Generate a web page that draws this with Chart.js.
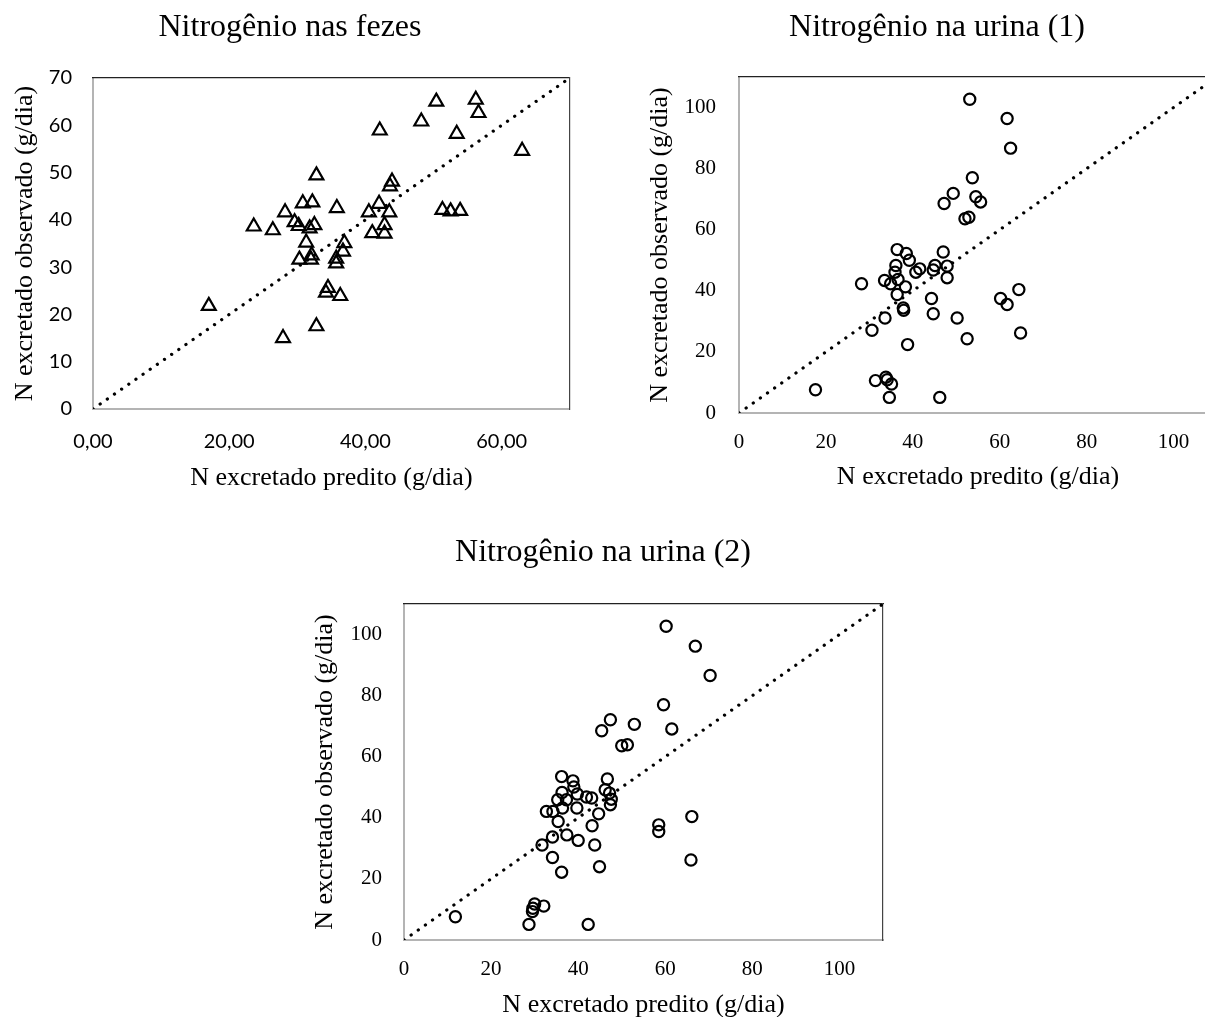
<!DOCTYPE html>
<html>
<head>
<meta charset="utf-8">
<script src="https://cdn.jsdelivr.net/npm/chart.js@4.4.1/dist/chart.umd.min.js"></script>
<style>
  html, body { margin:0; padding:0; background:#fff; overflow:hidden; width:1205px; height:1017px; }
  canvas { position:absolute; }
</style>
</head>
<body>
<canvas id="c1" width="580" height="510" style="left:0px;top:0px"></canvas>
<canvas id="c2" width="594" height="510" style="left:640px;top:0px"></canvas>
<canvas id="c3" width="586" height="510" style="left:310px;top:520px"></canvas>
<script>
// ---------- data ----------
const titles = ['Nitrogênio nas fezes', 'Nitrogênio na urina (1)', 'Nitrogênio na urina (2)'];
const xAxisTitle = 'N excretado predito (g/dia)';
const yAxisTitle = 'N excretado observado (g/dia)';

// Panel 1: fezes (triangles)
const pred1 = [50.4,56.2,56.6,48.2,42.1,53.4,63.0,32.8,43.9,43.6,30.8,32.2,35.8,42.0,40.5,43.5,28.2,51.3,52.5,53.9,23.6,26.4,29.6,30.2,31.8,32.5,42.8,41.0,42.8,31.3,36.9,36.7,32.1,30.3,32.0,35.7,35.7,34.5,34.2,36.3,17.0,32.8,27.9];
const obs1  = [65.0,65.4,62.6,60.8,58.9,58.2,54.6,49.4,48.1,47.1,43.5,43.7,42.5,43.4,41.6,41.6,41.6,42.1,41.8,41.9,38.6,37.8,39.5,38.7,38.2,38.9,38.9,37.2,37.1,35.2,35.1,33.3,32.5,31.6,31.6,31.8,30.8,25.6,24.6,23.9,21.8,17.5,15.0];

// Panel 2: urina (1) (circles)
const pred2 = [53.1,61.7,62.5,53.7,49.3,47.2,54.5,55.6,52.0,52.9,36.4,38.5,47.0,39.2,36.1,35.9,41.6,40.7,45.1,44.7,47.9,47.9,33.5,34.9,36.6,28.2,38.3,36.4,44.3,37.8,37.9,44.7,33.6,50.2,30.6,52.5,38.8,60.2,61.7,64.4,64.8,17.6,31.4,33.8,34.1,35.1,34.6,46.2];
const obs2  = [102.7,96.4,86.7,77.0,71.9,68.6,70.8,69.1,63.6,64.1,53.5,52.2,52.7,50.0,48.3,46.1,47.2,46.1,48.3,46.8,48.1,44.3,43.4,42.3,43.7,42.3,41.3,38.8,37.5,34.4,33.6,32.5,31.1,31.1,27.1,24.3,22.4,37.5,35.5,40.4,26.2,7.6,10.6,11.7,10.9,9.5,5.1,5.1];

// Panel 3: urina (2) (circles)
const pred3 = [60.2,66.9,70.3,59.6,47.4,52.9,45.4,61.5,50.0,51.3,36.2,38.8,46.7,39.0,36.3,39.8,41.9,43.1,46.2,47.2,47.6,47.4,35.3,37.3,36.4,32.7,34.2,39.7,44.7,35.4,43.2,34.1,37.4,40.0,31.7,43.8,34.1,44.9,36.2,58.5,58.5,66.1,65.9,11.8,30.0,32.1,29.5,28.7,42.3,29.6];
const obs3  = [102.7,96.2,86.6,77.0,72.1,70.6,68.5,69.1,63.6,63.9,53.5,52.1,52.7,50.1,48.3,47.8,46.8,46.5,49.2,48.1,46.1,44.3,45.9,45.9,43.2,42.1,42.1,43.2,41.3,38.8,37.4,33.7,34.4,32.6,31.1,31.1,27.0,24.0,22.2,37.7,35.5,40.4,26.2,7.6,11.8,11.1,9.3,5.1,5.1,10.4];

// 1:1 reference lines
const line1 = [0, 70];
const line23 = [0, 110];

// ticks
const xTicks1 = [0, 20, 40, 60];
const xLabels1 = ['0,00', '20,00', '40,00', '60,00'];
const yTicks1 = [0, 10, 20, 30, 40, 50, 60, 70];
const yLabels1 = ['0', '10', '20', '30', '40', '50', '60', '70'];
const ticks23 = [0, 20, 40, 60, 80, 100];
const labels23 = ['0', '20', '40', '60', '80', '100'];

// ---------- rendering ----------
const SERIF = '"Liberation Serif", "Times New Roman", serif';
const SANS = 'Lato, "Liberation Sans", sans-serif';

function pts(xs, ys) { return xs.map((x, i) => ({x: x, y: ys[i]})); }

function makeChart(id, cfg) {
  const ctx = document.getElementById(id);
  return new Chart(ctx, {
    type: 'scatter',
    data: {
      datasets: [
        {
          data: pts(cfg.px, cfg.py),
          pointStyle: cfg.style,
          pointRadius: cfg.radius,
          pointBorderWidth: 2.2,
          pointBorderColor: '#000',
          pointBackgroundColor: 'rgba(0,0,0,0)',
          showLine: false,
          order: 1
        },
        {
          type: 'line',
          data: pts(cfg.line, cfg.line),
          borderColor: '#000',
          borderWidth: 3.2,
          borderDash: [0.1, 8.6],
          borderCapStyle: 'round',
          pointRadius: 0,
          fill: false,
          order: 2
        }
      ]
    },
    options: {
      responsive: false,
      animation: false,
      events: [],
      devicePixelRatio: 1,
      layout: { padding: 0 },
      plugins: {
        legend: { display: false },
        tooltip: { enabled: false },
        title: {
          display: true,
          text: cfg.title,
          color: '#000',
          font: { family: SERIF, size: 32, weight: 'normal', lineHeight: 1.2 },
          padding: { top: cfg.titleTop, bottom: 0 }
        }
      },
      scales: {
        x: {
          type: 'linear', position: 'bottom', min: 0, max: cfg.max,
          afterFit: s => { s.height = cfg.xh; },
          afterBuildTicks: s => { s.ticks = cfg.xt.map(v => ({value: v})); },
          ticks: {
            callback: v => cfg.xl[cfg.xt.indexOf(v)],
            color: '#000', font: { family: cfg.tickFont, size: cfg.tickSize, lineHeight: 1.2 },
            padding: cfg.xtp, maxRotation: 0, autoSkip: false
          },
          grid: { display: false, drawTicks: false },
          border: { color: '#b4b4b4', width: 2 },
          title: { display: true, text: xAxisTitle, color: '#000',
                   font: { family: SERIF, size: 26, lineHeight: 1.2 },
                   padding: { top: 0, bottom: cfg.xtitlePad } }
        },
        y: {
          type: 'linear', position: 'left', min: 0, max: cfg.max,
          afterFit: s => { s.width = cfg.yw; },
          afterBuildTicks: s => { s.ticks = cfg.yt.map(v => ({value: v})); },
          ticks: {
            callback: v => cfg.yl[cfg.yt.indexOf(v)],
            color: '#000', font: { family: cfg.tickFont, size: cfg.tickSize },
            padding: cfg.ytp, autoSkip: false
          },
          grid: { display: false, drawTicks: false },
          border: { color: '#b4b4b4', width: 2 },
          title: { display: true, text: yAxisTitle, color: '#000',
                   font: { family: SERIF, size: 26, lineHeight: 1.2 },
                   padding: { top: cfg.ytitlePad, bottom: 0 } }
        },
        x2: {
          type: 'linear', position: 'top', display: true,
          afterFit: s => { s.height = cfg.x2h; },
          ticks: { display: false },
          grid: { display: false, drawTicks: false },
          border: { color: '#222', width: 1.2 }
        },
        y2: {
          type: 'linear', position: 'right', display: true,
          afterFit: s => { s.width = cfg.y2w; },
          ticks: { display: false },
          grid: { display: false, drawTicks: false },
          border: { color: '#444', width: 1.2 }
        }
      }
    }
  });
}

makeChart('c1', {
  title: titles[0], px: pred1, py: obs1, style: 'triangle', radius: 8, line: line1, max: 70,
  xt: xTicks1, xl: xLabels1, yt: yTicks1, yl: yLabels1,
  tickFont: SANS, tickSize: 20,
  titleTop: 8.8, x2h: 30.8, xh: 101, yw: 93, y2w: 9,
  xtp: 21, ytp: 21, xtitlePad: 16.4, ytitlePad: 9.4
});

makeChart('c2', {
  title: titles[1], px: pred2, py: obs2, style: 'circle', radius: 5.6, line: line23, max: 110,
  xt: ticks23, xl: labels23, yt: ticks23, yl: labels23,
  tickFont: SERIF, tickSize: 21,
  titleTop: 8.8, x2h: 29.8, xh: 97, yw: 99, y2w: 17,
  xtp: 17, ytp: 23, xtitlePad: 17.4, ytitlePad: 4.4
});

makeChart('c3', {
  title: titles[2], px: pred3, py: obs3, style: 'circle', radius: 5.6, line: line23, max: 110,
  xt: ticks23, xl: labels23, yt: ticks23, yl: labels23,
  tickFont: SERIF, tickSize: 21,
  titleTop: 13.8, x2h: 31.8, xh: 90, yw: 94, y2w: 13,
  xtp: 17, ytp: 22, xtitlePad: 9.4, ytitlePad: 0
});
</script>
</body>
</html>
